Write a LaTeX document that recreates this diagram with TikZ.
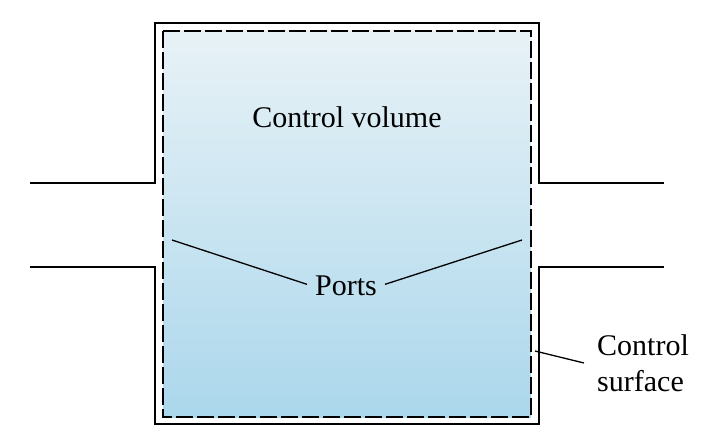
\documentclass[tikz,border=0pt]{standalone}
\usepackage{fontspec}
\setmainfont{Liberation Serif}
\definecolor{cvtop}{HTML}{E8F2F6}
\definecolor{cvbot}{HTML}{ABD7EC}
\begin{document}
\begin{tikzpicture}[x=1pt,y=-1pt,
  wall/.style={line width=2pt,line join=miter},
  csline/.style={line width=2pt,dash pattern=on 17pt off 4pt},
  lead/.style={line width=1.3pt},
  lbl/.style={font=\fontsize{30}{36}\selectfont,inner sep=0pt}]
\useasboundingbox[fill=white] (0,0) rectangle (708,446);
% control volume fill
\shade[top color=cvtop,bottom color=cvbot] (163,31) rectangle (531,417);
% walls
\draw[wall] (30,183) -- (155,183) -- (155,23) -- (539,23) -- (539,183) -- (664,183);
\draw[wall] (30,267) -- (155,267) -- (155,424) -- (539,424) -- (539,267) -- (664,267);
% control surface
\draw[csline] (163,31) rectangle (531,417);
% labels
\node[lbl,anchor=base] (cv) at (347,128) {Control volume};
\node[lbl,anchor=base,inner xsep=8pt] (ports) at (346,295) {Ports};
\node[lbl,anchor=west,align=left,inner xsep=13pt] (cs) at (584,363) {Control\\surface};
% leaders
\coordinate (pa) at (172,240);
\coordinate (pb) at (522,240);
\coordinate (sa) at (535,351);
\draw[lead] (pa) -- ([yshift=1pt]ports.west);
\draw[lead] (pb) -- ([yshift=1pt]ports.east);
\draw[lead] (sa) -- (cs.west);
\end{tikzpicture}
\end{document}
